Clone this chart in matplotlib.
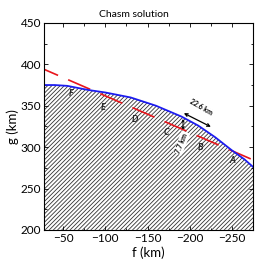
import matplotlib
matplotlib.use("Agg")
import matplotlib.pyplot as plt
import numpy as np

plt.rcParams['font.family'] = ['Lato', 'DejaVu Sans']
plt.rcParams['hatch.linewidth'] = 0.6
plt.rcParams['hatch.color'] = '#333333'
plt.rcParams['lines.scale_dashes'] = False

# surface (blue curve)
f_surf = [-27, -40, -55, -80, -100, -130, -160, -190, -210, -230, -250, -265, -275]
g_surf = [375, 375, 374, 369, 366, 360, 350, 337, 326, 312, 296, 285, 276]

# chasm chord line (red dashed)
f_line = [-27.5, -275]
g_line = [394, 284.5]

# segment labels
seg_names = ['F', 'E', 'D', 'C', 'B', 'A']
seg_f = [-59, -97, -135, -172, -213, -250]
seg_g = [365, 348, 333, 318, 299, 284]

fig = plt.figure(figsize=(2.67, 2.67), dpi=100)
ax = fig.add_axes([0.165, 0.139, 0.783, 0.775])

ax.fill_between(f_surf, g_surf, 200, facecolor='white', edgecolor='#333333',
                hatch='////////', linewidth=0)
red, = ax.plot(f_line, g_line, color='#e8141b', lw=1.2)
red.set_linestyle((6.3, (17.3, 7.9)))
ax.plot(f_surf, g_surf, color='#1c1cf0', lw=1.3)

for name, x, y in zip(seg_names, seg_f, seg_g):
    ax.text(x, y, name, fontsize=6.5, style='italic', fontweight='bold',
            ha='center', va='center', color='#222222')

# width arrow
ax.annotate('', xy=(-225, 324.5), xytext=(-193, 341),
            arrowprops=dict(arrowstyle='<->', lw=0.9, color='black',
                            shrinkA=0, shrinkB=0, mutation_scale=5))
ax.text(-213, 348, '22.6 km', fontsize=5, fontweight='bold', rotation=-30,
        ha='center', va='center')

# depth arrow
ax.annotate('', xy=(-192, 321), xytext=(-192, 334),
            arrowprops=dict(arrowstyle='<->', lw=0.7, color='black',
                            shrinkA=0, shrinkB=0, mutation_scale=4))
ax.text(-190.5, 305, '7.7 km', fontsize=5, fontweight='bold', rotation=68,
        ha='center', va='center',
        bbox=dict(facecolor='white', edgecolor='none', pad=0.8))

ax.set_xlim(-27.5, -275)
ax.set_ylim(200, 450)
ax.set_xticks([-50, -100, -150, -200, -250])
ax.set_yticks([200, 250, 300, 350, 400, 450])
ax.set_xticks(np.arange(-75, -275, -50), minor=True)
ax.set_yticks(np.arange(225, 450, 50), minor=True)
ax.tick_params(which='both', direction='in', top=True, right=True, labelsize=8.5, pad=2)
ax.tick_params(which='major', length=3, width=0.6)
ax.tick_params(which='minor', length=1.8, width=0.6)
for s in ax.spines.values():
    s.set_linewidth(0.8)

ax.set_xlabel('f (km)', fontsize=9.5, labelpad=2)
ax.set_ylabel('g (km)', fontsize=9.5, labelpad=1)
fig.text(0.5, 0.945, 'Chasm solution', fontsize=7.5, ha='center', va='center')

fig.savefig('out.png', dpi=100)
